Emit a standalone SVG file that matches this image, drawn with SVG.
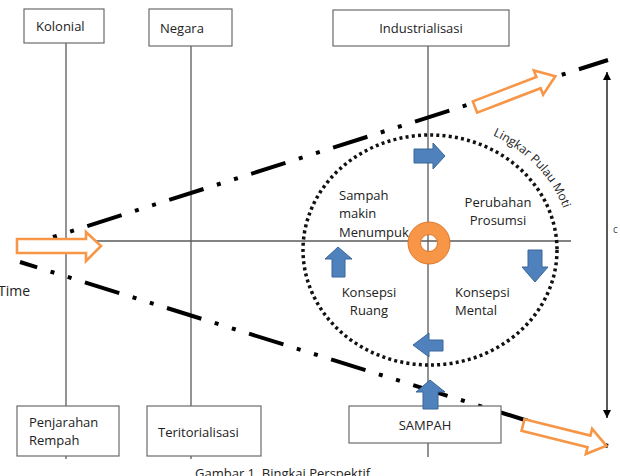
<svg xmlns="http://www.w3.org/2000/svg" width="620" height="476" viewBox="0 0 620 476">
<style>
.box{fill:#fff;stroke:#6b6b6b;stroke-width:1.2}
.ax{stroke:#5a5a5a;stroke-width:1.3;fill:none}
.t{font-family:"Open Sans","Noto Sans",sans-serif;font-size:13px;fill:#222}
.dd{stroke:#000;stroke-width:4;fill:none;stroke-dasharray:36 14 4 14 4 14}
.oa{fill:#fff;stroke:#F79646;stroke-width:2.6;stroke-linejoin:miter}
.ba{fill:#4F81BD;stroke:#3A6799;stroke-width:1}
</style>
<defs>
<marker id="ah" viewBox="0 0 10 10" refX="10" refY="5" markerWidth="8" markerHeight="10" markerUnits="userSpaceOnUse" orient="auto-start-reverse">
<path d="M0,0 L10,5 L0,10 Z" fill="#000"/>
</marker>
<path id="orr" d="M0,-6 L68,-6 L68,-13 L86,0 L68,13 L68,6 L0,6 Z"/>
<path id="lp" d="M289,250 A141 128 0 0 1 571,250"/>
</defs>
<g id="connectors">
<line class="ax" x1="66" y1="43" x2="66" y2="459"/>
<line class="ax" x1="191" y1="46" x2="191" y2="459"/>
<line class="ax" x1="428" y1="46" x2="428" y2="457"/>
<line class="ax" x1="86" y1="241" x2="571" y2="241"/>
<ellipse cx="430" cy="250" rx="127" ry="115" fill="none" stroke="#111" stroke-width="3.5" stroke-dasharray="3 3.2"/>
<path class="dd" d="M53,237 L608,60" style="stroke-dasharray:4 14 4 14 36 14"/>
<path class="dd" d="M20,262 L608,446" stroke-dashoffset="18"/>
<line x1="607" y1="72" x2="607" y2="418" stroke="#000" stroke-width="1.3" marker-start="url(#ah)" marker-end="url(#ah)"/>
</g>
<g id="kolonial"><rect class="box" x="24" y="9" width="80" height="34"/><text class="t" x="36" y="31">Kolonial</text></g>
<g id="negara"><rect class="box" x="149" y="9" width="83" height="37"/><text class="t" x="160" y="33">Negara</text></g>
<g id="industrialisasi"><rect class="box" x="333" y="10" width="176" height="36"/><text class="t" x="421" y="33" text-anchor="middle">Industrialisasi</text></g>
<g id="penjarahan"><rect class="box" x="17" y="406" width="102" height="50"/><text class="t" x="29" y="427">Penjarahan</text><text class="t" x="29" y="445">Rempah</text></g>
<g id="teritorialisasi"><rect class="box" x="147" y="406" width="114" height="50"/><text class="t" x="158" y="437">Teritorialisasi</text></g>
<g id="sampah"><rect class="box" x="349" y="406" width="152" height="37"/><text class="t" x="425" y="430" text-anchor="middle">SAMPAH</text></g>
<g id="time-arrow"><path class="oa" d="M17,239 L86,239 L86,232 L101,246 L86,261 L86,253 L17,253 Z"/></g>
<g id="upper-arrow"><use href="#orr" class="oa" transform="translate(475,107) rotate(-21)"/></g>
<g id="lower-arrow"><use href="#orr" class="oa" transform="translate(523,425) rotate(14)"/></g>
<g id="cycle-arrows">
<path class="ba" d="M414,149 L433,149 L433,143 L445,156 L433,169 L433,163 L414,163 Z"/>
<path class="ba" d="M338,247 L352,259 L345,259 L345,277 L332,277 L332,259 L325,259 Z"/>
<path class="ba" d="M528,250 L542,250 L542,267 L548,267 L535,282 L522,267 L528,267 Z"/>
<path class="ba" d="M413,345 L429,333 L429,340 L443,340 L443,351 L429,351 L429,357 Z"/>
<path class="ba" d="M430,380 L445,392 L438,392 L438,409 L423,409 L423,392 L416,392 Z"/>
</g>
<g id="ring"><path d="M408,243 a21,21 0 1,0 42,0 a21,21 0 1,0 -42,0 Z M420.5,243 a8.5,8.5 0 1,0 17,0 a8.5,8.5 0 1,0 -17,0 Z" fill="#F79646" fill-rule="evenodd" stroke="#E0782A" stroke-width="1"/></g>
<g id="labels">
<text class="t" x="339" y="200">Sampah</text>
<text class="t" x="339" y="218">makin</text>
<text class="t" x="339" y="237">Menumpuk</text>
<text class="t" x="498" y="207" text-anchor="middle">Perubahan</text>
<text class="t" x="498" y="225" text-anchor="middle">Prosumsi</text>
<text class="t" x="369" y="297" text-anchor="middle">Konsepsi</text>
<text class="t" x="369" y="315" text-anchor="middle">Ruang</text>
<text class="t" x="455" y="297">Konsepsi</text>
<text class="t" x="455" y="315">Mental</text>
<text class="t" x="-2" y="296" style="font-size:14px">Time</text>
<text class="t" style="font-size:12px"><textPath href="#lp" startOffset="276">Lingkar Pulau Moti</textPath></text>
<text class="t" x="613" y="233" style="font-size:10px;fill:#444">c</text>
<text class="t" x="195" y="478">Gambar 1. Bingkai Perspektif</text>
</g>
</svg>
